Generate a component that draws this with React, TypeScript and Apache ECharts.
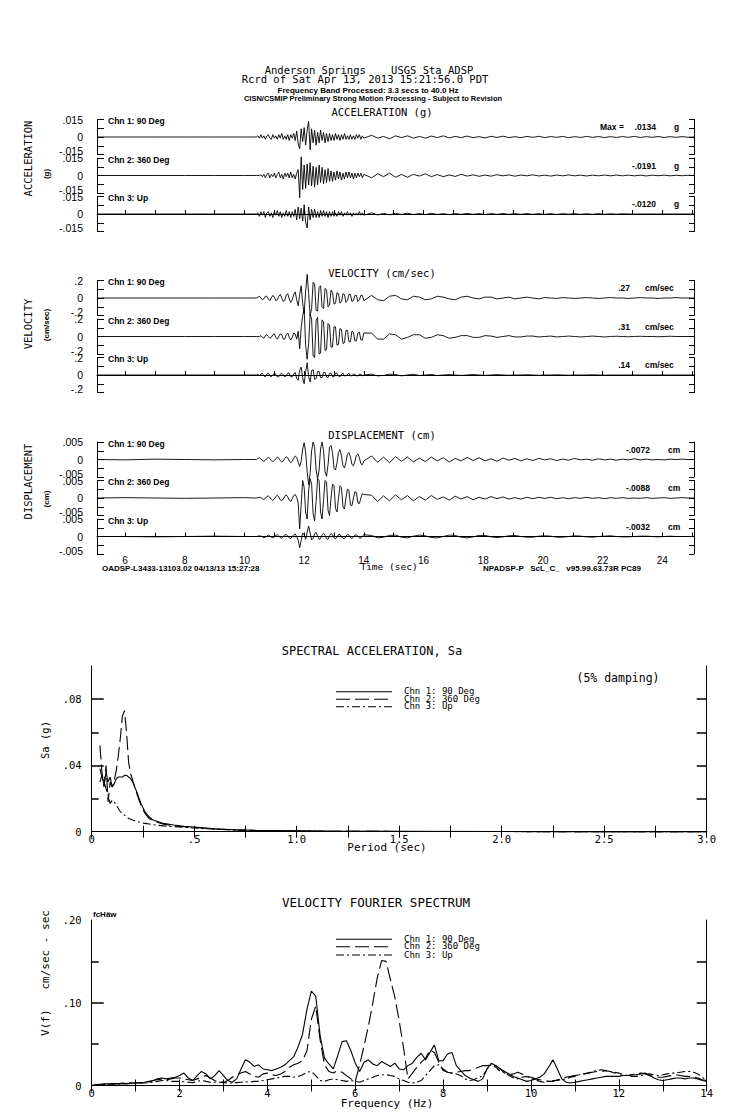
import React, { useEffect, useRef } from "react";
import * as echarts from "echarts";

// ---------- DATA ----------
const CHANNELS = ["Chn 1: 90 Deg", "Chn 2: 360 Deg", "Chn 3: Up"];
const SIDE_NAMES = ["ACCELERATION", "VELOCITY", "DISPLACEMENT"];
const SIDE_UNITS = ["(g)", "(cm/sec)", "(cm)"];
const BLOCK_TITLES = ["ACCELERATION (g)", "VELOCITY (cm/sec)", "DISPLACEMENT (cm)"];
const FULL_SCALE = [0.015, 0.2, 0.005];
const SAMPLE_UNIT = [0.001, 0.01, 0.0001];
const PEAK_TEXT = [
  [".0134", "-.0191", "-.0120"],
  [".27", ".31", ".14"],
  ["-.0072", "-.0088", "-.0032"],
];
const PEAK_UNITS = ["g", "cm/sec", "cm"];
const TIME_TICKS = [6, 7, 8, 9, 10, 11, 12, 13, 14, 15, 16, 17, 18, 19, 20, 21, 22, 23, 24, 25];
const TIME_LABELS = [6, 8, 10, 12, 14, 16, 18, 20, 22, 24];
const T_MIN = 5.06;
const T_MAX = 25.06;

// sample times
const PRE_T = [5.06, 6, 7, 8, 9, 10, 10.35];
const MAIN_T0 = 10.4;
const MAIN_DT = 0.05;
const CODA_T0 = 14.26;
const CODA_DT = 0.2;

// Acceleration (units of 0.001 g)
const ACC1_PRE = [0, 0, 0, 0, 0, 0, 0];
const ACC1_MAIN = [0, 1, -1, 2, -1, 1, -2, 1, 2, -1, -2, 2, -1, 1, -2, 2, -1, 3, -2, 1, -2, 2, -3, 2, -1, 3,
  -3, 5, -6, -10, 7, -4, 8, -7, 6, 13.4, -11,
  7, -5, 6, -7, 4, -5, 6, -3, 4, -5, 3, -4, 3,
  -3, 2, -3, 3, -2, 2, -3, 2, -2, 3, -2, 1, -2, 2, -2, 1, -2, 2, -1, 2, -2, 1, -1];
const ACC1_CODA = [1.5, -1, 0.5, -1.5, 1, -0.5, 1, -1, 0.5, -1, 0.8, -0.5, 1, -0.8, 0.5, -0.5, 0.8, -0.6, 0.3,
  -0.8, 0.6, -0.4, 0.7, -0.5, 0.3, -0.6, 0.5, -0.3, 0.6, -0.5, 0.4, -0.3, 0.5, -0.6, 0.3, -0.4, 0.5, -0.3, 0.4,
  -0.5, 0.3, -0.4, 0.4, -0.3, 0.5, -0.4, 0.3, -0.3, 0.4, -0.4, 0.3, -0.3, 0.3, -0.2, 0];
const ACC2_PRE = [0, 0, 0, 0, 0, 0, 0];
const ACC2_MAIN = [0, 0, 0, 0.5,
  -1, 1, -2, 1, 2, -2, 1, -1, 2, -2, 1, 3, -2, 1, -3, 2, -1, 2, -2, 3, -2, 1, -3, 2,
  5, -19.1, 16,
  -12, 9, -11, 10, -8, 11, -9, 8, -10, 7, -8, 9, -6, 7, -7, 5, -6, 6, -5,
  4, -5, 3, -4, 4, -3, 3, -4, 2, -3, 3, -2, 3, -2, 2, -3, 2, -2, 2, -1, 2, -2, 1];
const ACC2_CODA = [-2, 1.5, -1, 2, -1.5, 1, -1.5, 1, -0.5, 1.5, -1, 0.8, -1, 0.5, -0.8, 1, -0.5, 0.6, -0.7, 0.4,
  -0.6, 0.7, -0.3, 0.5, -0.6, 0.4, -0.3, 0.6, -0.4, 0.3, -0.5, 0.4, -0.3, 0.5, -0.3, 0.3, -0.4, 0.3, -0.3, 0.4,
  -0.3, 0.4, -0.3, 0.3, -0.3, 0.3, -0.4, 0.3, -0.2, 0.3, -0.3, 0.2, -0.2, 0.2, 0];
const ACC3_PRE = [0, 0, 0, 0, 0, 0, 0];
const ACC3_MAIN = [0,
  1, -2, 2, -1, 2, -3, 1, 2, -2, 1, -3, 2, -1, 3, -2, 2, -3, 1, -2, 3, -2, 2, -3, 2, -2,
  4, -5, 6, -4, 5, -6, 8, -7, -12, 6, -5, 4,
  -3, 4, -3, 2, -3, 3, -2, 3, -2, 2, -3, 2,
  -2, 2, -2, 1, -2, 2, -1, 2, -2, 1, -1, 2, -1, 1, -2, 1, -1, 1, -1, 2, -1, 1, -1];
const ACC3_CODA = [1, -0.8, 0.5, -0.7, 0.6, -0.4, 0.7, -0.5, 0.4, -0.5, 0.6, -0.4, 0.3, -0.5, 0.4, -0.3, 0.5,
  -0.3, 0.3, -0.4, 0.3, -0.3, 0.4, -0.3, 0.3, -0.3, 0.4, -0.3, 0.3, -0.3, 0.3, -0.4, 0.3, -0.2, 0.3, -0.3, 0.2,
  -0.3, 0.3, -0.2, 0.2, -0.2, 0.2, 0, 0, 0, 0, 0, 0, 0, 0, 0, 0, 0, 0];

// Velocity (units of 0.01 cm/sec)
const VEL1_PRE = [0, 0, 0, 0, 0, 0, 0];
const VEL1_MAIN = [0, 1, 2, 0, -2, -1, 2, 2, -1, -3, 0, 3, 1,
  -3, -2, 2, 4, 0, -4, -3, 3, 5, -1, -5, -2, 4,
  7, -2, -9, 4, 14, -6, -18,
  8, 27, 5, -20, -12, 18,
  16, -14, -15, 12, 14, -10, -12, 11, 9, -10, -8, 9,
  6, -7, -6, 6, 5, -6, -4, 5, 4, -5, -3, 4, 4, -4, -3, 3, 3, -4, -2, 3, 3, -3];
const VEL1_CODA = [3, -2, -3, 2, 3, -1, -2, 2, 1, -2, -1, 2, 1, -1, -2, 1, 2, 0, -1, 1, 1, -1, 0, 1, -1, 0, 1, 0,
  -1, 0.5, 0, -0.5, 0.5, 0, -0.5, 0, 0.5, 0, -0.5, 0, 0.5, 0, 0, -0.5, 0, 0.5, 0, 0, -0.5, 0, 0, 0.5, 0, 0, 0];
const VEL2_PRE = [0, 0, 0, 0, 0, 0, 0];
const VEL2_MAIN = [0, 0, 0, 1,
  -1, -2, 1, 2, 0, -2, -1, 2, 3, -1, -3, 0, 3, 2, -3, -3, 2, 4, -1, -4, -1, 4, 3, -3,
  6, -14, 10, 24, 31, -10, -26,
  -8, 25, 20, -22, -24, 18, 22, -20, -19, 19, 17, -16, -15, 15, 13, -12,
  -12, 11, 11, -10, -9, 9, 8, -8, -7, 7, 7, -6, -6, 6, 5, -5, -5, 4, 5, -4, -4, 4];
const VEL2_CODA = [4, -3, -3, 3, 2, -3, -1, 2, 2, -2, -1, 2, 1, -2, -1, 1, 1, -1, -1, 1, 0.5, -1, 0, 1, -0.5, -0.5,
  0.5, 0.5, -0.5, 0, 0.5, -0.5, 0, 0.5, 0, -0.5, 0, 0.5, 0, -0.5, 0, 0.3, 0, -0.3, 0, 0.3, 0, 0, -0.3, 0, 0.3, 0,
  0, 0, 0];
const VEL3_PRE = [0, 0, 0, 0, 0, 0, 0];
const VEL3_MAIN = [0, 1, -1, 1, 2, -1, -2, 1, 2, -1, -2, 0, 2, 1, -2, -2, 1, 2, 0, -2, -1, 2, 2, -2, -2, 1,
  3, -4, -6, 5, 9, -3, -10, 4, 14, -2, -8, 5,
  6, -5, -4, 4, 4, -3, -3, 3, 3, -2, -3, 2, 2,
  -2, -2, 2, 2, -1, -2, 1, 2, -1, -1, 1, 2, -1, -1, 1, 1, -1, -1, 1, 1, -1, 0];
const VEL3_CODA = [1, -1, -0.5, 1, 0.5, -1, 0, 0.8, -0.5, 0, 0.6, -0.6, 0, 0.5, 0, -0.5, 0, 0.5, 0, -0.4, 0, 0.4,
  0, -0.3, 0, 0, 0.3, 0, -0.3, 0, 0, 0.3, 0, -0.3, 0, 0, 0, 0.3, 0, -0.2, 0, 0, 0, 0, 0, 0, 0, 0, 0, 0, 0, 0, 0,
  0, 0];

// Displacement (units of 0.0001 cm)
const DISP1_PRE = [0, -1, 1, 0, -1, 0, 0];
const DISP1_MAIN = [0, 3, 5, 2, -3, -5, -2, 3, 6, 3, -3, -6, -3, 2, 7, 4, -3, -7, -4, 3, 8, 5, -4, -9, -5, 4, 10, 6,
  -8, -20, -5, 30, 48, 20, -35, -72, -40, 25, 50, 35, -30, -55, -30, 30, 50, 25, -35, -48, -15, 35, 40,
  20, -25, -30, -10, 20, 28, 10, -18, -24, -8, 15, 20, 8, -14, -18, -6, 12, 16, 5, -12, -15, -4];
const DISP1_CODA = [10, -8, 7, -9, 8, -5, 7, -7, 4, -6, 7, -4, 5, -7, 3, -4, 6, -3, 5, -4, 2, -5, 4, -2, 3, -4, 2,
  -3, 3, -1, 2, -3, 1, -2, 3, -1, 1, -2, 2, -1, 1, -2, 1, -1, 2, -1, 1, -1, 0, -1, 1, 0, 1, 0, 0];
const DISP2_PRE = [0, 1, 0, -1, 0, 1, 0];
const DISP2_MAIN = [0, 1, 2, 1, -2, -4, -1, 4, 6, 2, -4, -7, -3, 4, 8, 3, -5, -8, -3, 5, 9, 3, -6, -10, -2, 7, 10, 2,
  -15, -88, -20, 50, 30, -40, -60, 20, 55, 40, -45, -65, -10, 55, 50, -40, -60, -5, 50, 45, -35, -50, 0,
  40, 35, -30, -40, 0, 35, 30, -25, -32, 0, 25, 22, -20, -22, 0, 18, 16, -14, -16, 0, 12, 10];
const DISP2_CODA = [8, -10, 6, -8, 9, -5, 7, -8, 4, -6, 7, -4, 3, -6, 5, -3, 4, -5, 2, -3, 4, -2, 3, -3, 1, -3, 2,
  -2, 2, -1, 2, -2, 1, -2, 1, -1, 2, -1, 1, -2, 1, -1, 1, -1, 0, -1, 1, -1, 0, 1, -1, 0, 1, 0, 0];
const DISP3_PRE = [0, 0, -1, 0, 1, 0, 0];
const DISP3_MAIN = [0, 1, 2, 1, -1, -3, -2, 1, 4, 2, -2, -4, -1, 3, 5, 1, -3, -5, 0, 4, 6, 1, -4, -6, 0, 5, 7, 0,
  -10, -32, -12, 10, 5, -8, 12, 30, 10, -10, -5, 8, 12, 2, -8, -6, 5, 9, 3, -6, -8, 2, 8,
  5, -4, -7, -2, 5, 6, 0, -5, -6, 1, 6, 4, -3, -6, -2, 4, 5, 0, -4, -5, 1, 5];
const DISP3_CODA = [3, -4, -2, 3, 4, -2, -4, 1, 4, 2, -3, -4, 0, 4, 3, -2, -4, -1, 3, 3, -1, -3, -1, 2, 3, 0, -2,
  -2, 1, 2, 1, -2, -2, 0, 2, 1, -1, -2, 0, 1, 2, 0, -1, -1, 0, 1, 1, 0, -1, 0, 1, 0, 0, 0, 0];

const TRACES = [
  [[ACC1_PRE, ACC1_MAIN, ACC1_CODA], [ACC2_PRE, ACC2_MAIN, ACC2_CODA], [ACC3_PRE, ACC3_MAIN, ACC3_CODA]],
  [[VEL1_PRE, VEL1_MAIN, VEL1_CODA], [VEL2_PRE, VEL2_MAIN, VEL2_CODA], [VEL3_PRE, VEL3_MAIN, VEL3_CODA]],
  [[DISP1_PRE, DISP1_MAIN, DISP1_CODA], [DISP2_PRE, DISP2_MAIN, DISP2_CODA], [DISP3_PRE, DISP3_MAIN, DISP3_CODA]],
];

// Spectral acceleration (period in sec, Sa in 0.001 g)
const SA_PERIOD = [0.04, 0.05, 0.06, 0.07, 0.08, 0.09, 0.10, 0.11, 0.12, 0.13, 0.14, 0.15, 0.16, 0.17, 0.18, 0.19,
  0.20, 0.22, 0.24, 0.26, 0.28, 0.30, 0.35, 0.40, 0.45, 0.50, 0.60, 0.70, 0.80, 1.0, 1.2, 1.5, 2.0, 2.5, 3.0];
const SA_CH1 = [30, 34, 28, 36, 30, 33, 27, 29, 32, 33, 33, 33, 34, 34, 33, 32, 30, 24, 17, 12, 9, 7, 5, 4, 3.2, 2.8,
  1.8, 1.2, 0.8, 0.5, 0.3, 0.2, 0.1, 0.05, 0.03];
const SA_CH2 = [52, 36, 27, 40, 18, 30, 27, 31, 37, 46, 57, 70, 73, 60, 42, 35, 31, 23, 16, 11, 8, 6.5, 4.5, 3.5, 3,
  2.5, 1.6, 1.1, 0.7, 0.4, 0.25, 0.15, 0.08, 0.05, 0.03];
const SA_CH3 = [38, 33, 30, 26, 22, 17, 19, 18, 16, 14, 12, 11, 10, 9, 8, 7.5, 7, 6.2, 5.6, 5, 4.6, 4.2, 3.5, 3, 2.6,
  2.2, 1.5, 1, 0.7, 0.4, 0.25, 0.15, 0.08, 0.05, 0.03];

// Velocity Fourier spectrum (0 to 14 Hz every 0.1 Hz, units of 0.001 cm/sec-sec)
const FS_DF = 0.1;
const FS_CH1 = [
  0, 1, 1.5, 2, 2, 2.5, 2, 3, 2.5, 3,
  3, 3.5, 4, 5, 6, 8, 9, 8, 9, 10,
  12, 15, 9, 6, 12, 17, 14, 8, 12, 18,
  12, 6, 4, 8, 20, 31, 28, 23, 25, 20,
  19, 18, 20, 22, 25, 30, 35, 47, 62, 92,
  114, 108, 60, 33, 26, 20, 36, 53, 54, 42,
  27, 17, 28, 31, 26, 24, 29, 26, 23, 27,
  20, 19, 24, 27, 34, 39, 31, 40, 49, 30,
  30, 38, 40, 24, 18, 12, 9, 7, 5, 8,
  20, 27, 24, 20, 17, 14, 11, 9, 7, 5,
  6, 8, 10, 14, 22, 31, 20, 8, 4, 3,
  4, 5, 6, 7, 8, 9, 10, 11, 11, 11,
  11, 12, 12, 13, 13, 14, 15, 12, 9, 7,
  6, 7, 8, 9, 9, 8, 9, 9, 8, 6,
  5];
const FS_CH2 = [
  0, 0.5, 1, 1.5, 2, 2, 2.5, 2, 3, 3,
  3, 3, 3.5, 4, 6, 7, 8, 7, 8, 9,
  9, 8, 7, 6, 8, 10, 12, 9, 6, 5,
  4, 6, 10, 13, 15, 17, 14, 11, 10, 14,
  15, 13, 12, 14, 17, 22, 25, 27, 30, 42,
  80, 96, 55, 25, 17, 15, 18, 16, 12, 8,
  5, 25, 48, 72, 100, 130, 151, 150, 128, 107,
  78, 45, 8, 15, 22, 28, 33, 43, 40, 28,
  18, 16, 15, 16, 17, 18, 18, 20, 22, 24,
  24, 25, 24, 20, 15, 13, 14, 16, 14, 11,
  10, 8, 7, 6, 5, 5, 7, 8, 10, 11,
  12, 13, 14, 15, 16, 17, 17, 18, 17, 15,
  13, 12, 12, 13, 14, 15, 14, 12, 11, 10,
  10, 11, 12, 13, 12, 11, 11, 10, 9, 7,
  6];
const FS_CH3 = [
  0, 0.5, 1, 1, 1.5, 1.5, 2, 2, 2, 2.5,
  2.5, 3, 3, 3.5, 4, 5, 6, 6, 5, 5,
  5, 4.5, 4, 3.5, 5, 6, 5, 4, 4, 4,
  3.5, 3, 3, 3.5, 4, 4.5, 4, 5, 5, 6,
  7, 8, 9, 10, 11, 11, 10, 11, 13, 16,
  17, 12, 6, 5, 7, 8, 7, 6, 5, 6,
  5, 4, 6, 8, 10, 12, 13, 13, 12, 11,
  8, 6, 4, 3, 4, 6, 12, 18, 24, 25,
  20, 16, 15, 14, 12, 8, 6, 7, 10, 11,
  20, 26, 22, 17, 16, 12, 9, 8, 10, 11,
  9, 7, 5, 4, 5, 6, 6, 7, 8, 10,
  11, 13, 14, 15, 17, 18, 19, 18, 17, 16,
  15, 13, 12, 11, 11, 12, 13, 14, 13, 12,
  13, 14, 15, 15, 16, 17, 17, 16, 14, 10,
  6];

// ---------- LAYOUT / STYLE ----------
const MONO = '"DejaVu Sans Mono", monospace';
const SANS = '"Liberation Sans", Arial, sans-serif';
const TS_LEFT = 97;
const TS_RIGHT = 694;
const STRIP_H = 35;
const STRIP_TOPS = [[119.5, 158, 196.5], [280.5, 319, 357.5], [442, 480.5, 519]];
const LOW_LABEL_POS = 0.82; // lower tick label sits a little above the strip bottom, as in the original
const SA_BOX = { left: 91.7, top: 666, right: 706.7, bottom: 831.7 };
const FS_BOX = { left: 91.7, top: 920, right: 706.7, bottom: 1085.5 };
const DASHES: (number[] | undefined)[] = [undefined, [14, 5], [8, 3, 2, 3]];

function txt(text: string, x: number, y: number, font: string, align = "left", rotation = 0) {
  return {
    type: "text", x, y, rotation, silent: true,
    style: { text, font, fill: "#000", textAlign: align, textVerticalAlign: "middle" },
  };
}
function seg(x1: number, y1: number, x2: number, y2: number, dash?: number[]) {
  return {
    type: "line", silent: true, shape: { x1, y1, x2, y2 },
    style: { stroke: "#000", lineWidth: 1.1, lineDash: dash || null },
  };
}
function fmtLead(v: number, digits?: number) {
  if (v === 0) return "0";
  const s = digits === undefined ? String(Math.abs(v)) : Math.abs(v).toFixed(digits);
  return (v < 0 ? "-" : "") + s.replace(/^0(?=\.)/, "");
}
function buildTrace(parts: number[][], unit: number) {
  const [pre, main, coda] = parts;
  const pts: number[][] = [];
  pre.forEach((v, i) => pts.push([PRE_T[i], v * unit]));
  main.forEach((v, i) => pts.push([+(MAIN_T0 + i * MAIN_DT).toFixed(3), v * unit]));
  coda.forEach((v, i) => pts.push([+(CODA_T0 + i * CODA_DT).toFixed(3), v * unit]));
  return pts;
}

function buildOption() {
  const grids: any[] = [];
  const xAxes: any[] = [];
  const yAxes: any[] = [];
  const series: any[] = [];
  const graphics: any[] = [];
  const black = { color: "#000", width: 1 };

  STRIP_TOPS.forEach((tops, b) => {
    const S = FULL_SCALE[b];
    tops.forEach((top, c) => {
      const gi = grids.length;
      grids.push({ left: TS_LEFT, width: TS_RIGHT - TS_LEFT, top, height: STRIP_H });
      const isBottom = c === 2;
      const xi = xAxes.length;
      xAxes.push({
        gridIndex: gi, type: "value", min: T_MIN, max: T_MAX, show: isBottom,
        axisLine: { show: isBottom, lineStyle: black },
        axisTick: { show: isBottom, inside: true, length: 4, customValues: TIME_TICKS, lineStyle: black },
        axisLabel: {
          show: isBottom && b === 2, customValues: TIME_LABELS, margin: 1,
          color: "#000", fontSize: 10, fontFamily: SANS,
        },
        splitLine: { show: false },
      });
      const yi = yAxes.length;
      const lowPos = -S * LOW_LABEL_POS;
      yAxes.push({
        gridIndex: gi, type: "value", position: "left", min: -S, max: S, interval: S / 2,
        axisLine: { show: true, lineStyle: black },
        axisTick: { show: true, inside: true, length: 7, lineStyle: black },
        axisLabel: {
          show: true, customValues: [lowPos, 0, S],
          formatter: (v: number) => (v < 0 ? fmtLead(-S) : fmtLead(v)),
          margin: 14, color: "#000", fontSize: 10.5, fontFamily: SANS,
        },
        splitLine: { show: false },
      });
      yAxes.push({
        gridIndex: gi, type: "value", position: "right", min: -S, max: S, interval: S / 2,
        axisLine: { show: true, lineStyle: black },
        axisTick: { show: true, inside: true, length: 5, lineStyle: black },
        axisLabel: { show: false },
        splitLine: { show: false },
      });
      series.push({
        type: "line", xAxisIndex: xi, yAxisIndex: yi, showSymbol: false, clip: false, silent: true,
        data: buildTrace(TRACES[b][c], SAMPLE_UNIT[b]),
        lineStyle: { color: "#000", width: 0.9 },
      });
      graphics.push(txt(CHANNELS[c], 108, top + 1.5, `bold 8.5px ${SANS}`));
      const valRight = [656, 630, 650][b];
      const unitLeft = [674, 645, 668][b];
      graphics.push(txt(PEAK_TEXT[b][c], valRight, top + 7.5, `bold 8.5px ${SANS}`, "right"));
      graphics.push(txt(PEAK_UNITS[b], unitLeft, top + 7.5, `bold 8.5px ${SANS}`));
      if (b === 0 && c === 0) graphics.push(txt("Max =", 600, top + 7.5, `bold 8.5px ${SANS}`));
    });
  });

  const titleY = [112, 273, 435];
  const sideY = [158.5, 324, 481.5];
  const unitY = [174, 325, 499];
  BLOCK_TITLES.forEach((t, b) => {
    graphics.push(txt(t, 382, titleY[b], `10.5px ${MONO}`, "center"));
    graphics.push(txt(SIDE_NAMES[b], 28, sideY[b], `10.5px ${MONO}`, "center", Math.PI / 2));
    graphics.push(txt(SIDE_UNITS[b], 46.5, unitY[b], `bold 8px ${SANS}`, "center", Math.PI / 2));
  });

  graphics.push(txt("Anderson Springs    USGS Sta ADSP", 369, 70, `10.5px ${MONO}`, "center"));
  graphics.push(txt("Rcrd of Sat Apr 13, 2013 15:21:56.0 PDT", 365, 79, `10.5px ${MONO}`, "center"));
  graphics.push(txt("Frequency Band Processed: 3.3 secs to 40.0 Hz", 368, 90.5, `bold 8px ${SANS}`, "center"));
  graphics.push(txt("CISN/CSMIP Preliminary Strong Motion Processing - Subject to Revision", 373, 98.5, `bold 7.5px ${SANS}`, "center"));
  graphics.push(txt("Time (sec)", 389, 566.5, `9.5px ${MONO}`, "center"));
  graphics.push(txt("OADSP-L3433-13103.02 04/13/13 15:27:28", 102, 568, `bold 8px ${SANS}`));
  graphics.push(txt("NPADSP-P   ScL_C_   v95.99.63.73R PC89", 483, 568, `bold 8px ${SANS}`));

  const panel = (box: any, xMax: number, xInt: number, xLabelFmt: (v: number) => string,
    yMax: number, longTicks: number[], shortTicks: number[], rightTicks: number[], yLabels: number[]) => {
    const gi = grids.length;
    grids.push({ left: box.left, top: box.top, width: box.right - box.left, height: box.bottom - box.top });
    const xi = xAxes.length;
    xAxes.push({
      gridIndex: gi, type: "value", min: 0, max: xMax, interval: xInt, position: "bottom",
      axisLine: { show: true, lineStyle: black },
      axisTick: { show: true, inside: true, length: 6, lineStyle: black },
      axisLabel: { show: true, formatter: xLabelFmt, margin: 2, color: "#000", fontSize: 10.5, fontFamily: MONO },
      splitLine: { show: false },
    });
    xAxes.push({
      gridIndex: gi, type: "value", min: 0, max: xMax, interval: xInt, position: "top",
      axisLine: { show: true, lineStyle: black },
      axisTick: { show: true, inside: true, length: 6, lineStyle: black },
      axisLabel: { show: false }, splitLine: { show: false },
    });
    const yi = yAxes.length;
    yAxes.push({
      gridIndex: gi, type: "value", min: 0, max: yMax, position: "left",
      axisLine: { show: true, lineStyle: black },
      axisTick: { show: true, inside: true, length: 12, customValues: longTicks, lineStyle: { color: "#000", width: 1.5 } },
      axisLabel: {
        show: true, customValues: yLabels, formatter: (v: number) => fmtLead(v, 2),
        margin: 10, color: "#000", fontSize: 10.5, fontFamily: MONO,
      },
      splitLine: { show: false },
    });
    yAxes.push({
      gridIndex: gi, type: "value", min: 0, max: yMax, position: "left",
      axisLine: { show: false },
      axisTick: { show: true, inside: true, length: 7, customValues: shortTicks, lineStyle: { color: "#000", width: 1.5 } },
      axisLabel: { show: false }, splitLine: { show: false },
    });
    yAxes.push({
      gridIndex: gi, type: "value", min: 0, max: yMax, position: "right",
      axisLine: { show: true, lineStyle: black },
      axisTick: { show: true, inside: true, length: 10, customValues: rightTicks, lineStyle: { color: "#000", width: 1.5 } },
      axisLabel: { show: false }, splitLine: { show: false },
    });
    return { xi, yi };
  };

  const sa = panel(SA_BOX, 3, 0.25,
    (v: number) => (Math.abs(v * 2 - Math.round(v * 2)) > 1e-6 ? "" : v === 0 ? "0" : v < 1 ? ".5" : v.toFixed(1)),
    0.1, [0.04, 0.08], [0.02, 0.06], [0.02, 0.04, 0.06, 0.08], [0, 0.04, 0.08]);
  [SA_CH1, SA_CH2, SA_CH3].forEach((arr, c) => {
    series.push({
      type: "line", xAxisIndex: sa.xi, yAxisIndex: sa.yi, showSymbol: false, clip: false, silent: true,
      data: arr.map((v, i) => [SA_PERIOD[i], v / 1000]),
      lineStyle: { color: "#000", width: 1.1, type: DASHES[c] || "solid" },
    });
  });

  const fs = panel(FS_BOX, 14, 1,
    (v: number) => (Math.round(v) % 2 === 0 ? String(Math.round(v)) : ""),
    0.2, [0.1], [0.05, 0.15], [0.05, 0.1, 0.15], [0, 0.1, 0.2]);
  [FS_CH1, FS_CH2, FS_CH3].forEach((arr, c) => {
    series.push({
      type: "line", xAxisIndex: fs.xi, yAxisIndex: fs.yi, showSymbol: false, clip: false, silent: true,
      data: arr.map((v, i) => [+(i * FS_DF).toFixed(2), v / 1000]),
      lineStyle: { color: "#000", width: 1.1, type: DASHES[c] || "solid" },
    });
  });

  graphics.push(txt("SPECTRAL ACCELERATION, Sa", 372, 650.7, `12px ${MONO}`, "center"));
  graphics.push(txt("(5% damping)", 618, 678.3, `11.5px ${MONO}`, "center"));
  graphics.push(txt("Sa (g)", 45, 740, `10.5px ${MONO}`, "center", Math.PI / 2));
  graphics.push(txt("Period (sec)", 387, 847, `11px ${MONO}`, "center"));
  graphics.push(txt("VELOCITY FOURIER SPECTRUM", 376, 902.7, `12.5px ${MONO}`, "center"));
  graphics.push(txt("V(f)   cm/sec - sec", 45, 973, `11px ${MONO}`, "center", Math.PI / 2));
  graphics.push(txt("Frequency (Hz)", 387, 1103, `11px ${MONO}`, "center"));
  graphics.push(txt("fcHäw", 93, 914, `bold 8px ${SANS}`));

  const legendRowsSa = [691.7, 699.3, 706.7];
  const legendRowsFs = [939.3, 946.7, 955];
  [legendRowsSa, legendRowsFs].forEach((rows) => {
    rows.forEach((y, c) => {
      graphics.push(seg(336, y, 392, y, DASHES[c]));
      graphics.push(txt(CHANNELS[c], 404, y - 0.5, `9px ${MONO}`));
    });
  });

  return {
    animation: false,
    backgroundColor: "#fff",
    grid: grids,
    xAxis: xAxes,
    yAxis: yAxes,
    series,
    graphic: { elements: graphics },
  };
}

export default function App() {
  const ref = useRef<HTMLDivElement>(null);
  useEffect(() => {
    if (!ref.current) return;
    const chart = echarts.init(ref.current, null, { renderer: "svg" });
    chart.setOption(buildOption() as any);
    return () => chart.dispose();
  }, []);
  return (
    <div
      ref={ref}
      style={{ position: "absolute", left: 0, top: 0, width: 739, height: 1115, background: "#fff" }}
    />
  );
}
